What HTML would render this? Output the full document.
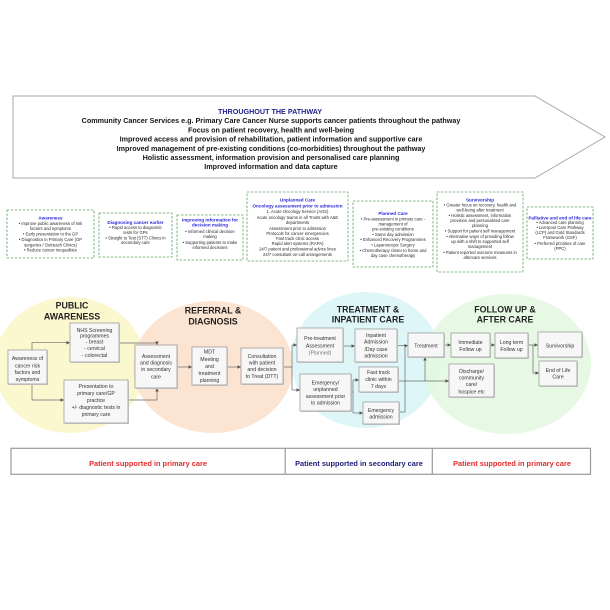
<!DOCTYPE html>
<html><head><meta charset="utf-8"><style>
html,body{margin:0;padding:0;background:#fff;}
svg{display:block;}
text{font-family:"Liberation Sans",Arial,sans-serif;}
.t{font-size:7.2px;font-weight:bold;fill:#161616;text-anchor:middle;}
.tt{font-size:7.2px;font-weight:bold;fill:#23238e;text-anchor:middle;}
.h{font-size:4.6px;fill:#2b2bd6;text-anchor:middle;font-weight:bold;}
.s{font-size:4.2px;fill:#2a2a2a;text-anchor:middle;}
.b{font-size:5.2px;fill:#333;text-anchor:middle;}
.sec{font-size:8.8px;font-weight:bold;fill:#222;text-anchor:middle;}
.bar{font-size:7.4px;font-weight:bold;text-anchor:middle;}
.db{fill:#fff;stroke:#5fa55f;stroke-width:0.8;stroke-dasharray:2.5,1.5;}
.bx{fill:rgba(255,255,255,0.82);stroke:#9a9a9a;stroke-width:0.8;}
.sh{fill:#cfcfcf;}
.ln{fill:none;stroke:#6a6a6a;stroke-width:0.7;}
</style></head><body>
<svg width="610" height="610" viewBox="0 0 610 610" xmlns="http://www.w3.org/2000/svg">
<defs>
<marker id="a" viewBox="0 0 6 6" refX="6" refY="3" markerUnits="userSpaceOnUse" markerWidth="3.6" markerHeight="3.6" orient="auto">
<path d="M0,0 L6,3 L0,6 z" fill="#555"/>
</marker>
</defs>
<rect width="610" height="610" fill="#fff"/>

<!-- Top arrow -->
<polygon points="13,96 535,96 605,137 535,178 13,178" fill="#fff" stroke="#a8a8a8" stroke-width="1"/>
<text class="tt" x="270" y="114">THROUGHOUT THE PATHWAY</text>
<text class="t" x="271" y="123.2">Community Cancer Services e.g. Primary Care Cancer Nurse supports cancer patients throughout the pathway</text>
<text class="t" x="271" y="132.4">Focus on patient recovery, health and well-being</text>
<text class="t" x="271" y="141.6">Improved access and provision of rehabilitation, patient information and supportive care</text>
<text class="t" x="271" y="150.8">Improved management of pre-existing conditions (co-morbidities) throughout the pathway</text>
<text class="t" x="271" y="160">Holistic assessment, information provision and personalised care planning</text>
<text class="t" x="271" y="169.2">Improved information and data capture</text>

<!-- Dashed boxes -->
<rect class="db" x="7" y="210" width="87" height="48"/>
<text class="h" x="50.5" y="219.3">Awareness</text>
<text class="s" x="50.5" y="224.8">• Improve public awareness of risk</text>
<text class="s" x="50.5" y="229.8">factors and symptoms</text>
<text class="s" x="50.5" y="235.5">• Early presentation to the GP</text>
<text class="s" x="50.5" y="240.8">• Diagnostics in Primary Care (GP</text>
<text class="s" x="50.5" y="246.5">surgeries / Outreach Clinics)</text>
<text class="s" x="50.5" y="251.5">• Reduce cancer inequalities</text>

<rect class="db" x="99" y="213" width="73" height="44"/>
<text class="h" x="135.5" y="223.9">Diagnosing cancer earlier</text>
<text class="s" x="135.5" y="229.2">• Rapid access to diagnostic</text>
<text class="s" x="135.5" y="233.8">tests for GPs</text>
<text class="s" x="135.5" y="239.5">• Straight to Test (STT) Clinics in</text>
<text class="s" x="135.5" y="244.2">secondary care</text>

<rect class="db" x="177" y="215" width="66" height="45"/>
<text class="h" x="210" y="221.6">Improving information for</text>
<text class="h" x="210" y="226.6">decision making</text>
<text class="s" x="210" y="233.2">• Informed clinical decision</text>
<text class="s" x="210" y="238.2">making</text>
<text class="s" x="210" y="243.8">• Supporting patients to make</text>
<text class="s" x="210" y="248.8">informed decisions</text>

<rect class="db" x="247" y="192" width="101" height="69"/>
<text class="h" x="297.5" y="201.6">Unplanned Care</text>
<text class="h" x="297.5" y="207.3">Oncology assessment prior to admission</text>
<text class="s" x="297.5" y="213.2">1. Acute Oncology Service (AOS)</text>
<text class="s" x="297.5" y="218.8">Acute oncology teams in all Trusts with A&amp;E</text>
<text class="s" x="297.5" y="223.8">departments</text>
<text class="s" x="297.5" y="229.8">Assessment prior to admission</text>
<text class="s" x="297.5" y="234.8">Protocols for cancer emergencies</text>
<text class="s" x="297.5" y="239.8">Fast track clinic access</text>
<text class="s" x="297.5" y="245.2">Rapid alert systems (RAPA)</text>
<text class="s" x="297.5" y="250.5">24/7 patient and professional advice lines</text>
<text class="s" x="297.5" y="255.8">24/7 consultant on-call arrangements</text>

<rect class="db" x="353" y="201" width="80" height="66"/>
<text class="h" x="393" y="214.9">Planned Care</text>
<text class="s" x="393" y="220.5">• Pre-assessment in primary care -</text>
<text class="s" x="393" y="225.5">management of</text>
<text class="s" x="393" y="230.5">pre-existing conditions</text>
<text class="s" x="393" y="235.8">• Same day admission</text>
<text class="s" x="393" y="240.8">• Enhanced Recovery  Programmes</text>
<text class="s" x="393" y="246.5">• Laparoscopic Surgery</text>
<text class="s" x="393" y="251.8">• Chemotherapy closer to home and</text>
<text class="s" x="393" y="257.2">day case chemotherapy</text>

<rect class="db" x="437" y="192" width="86" height="80"/>
<text class="h" x="480" y="201.6">Survivorship</text>
<text class="s" x="480" y="206.5">• Greater focus on recovery, health and</text>
<text class="s" x="480" y="211.5">well-being after treatment</text>
<text class="s" x="480" y="217.2">• Holistic assessment, information</text>
<text class="s" x="480" y="222.2">provision and personalised care</text>
<text class="s" x="480" y="227.2">planning</text>
<text class="s" x="480" y="232.5">• Support for patient self management</text>
<text class="s" x="480" y="238.2">• Alternative ways of providing follow</text>
<text class="s" x="480" y="243.2">up with a shift to supported self</text>
<text class="s" x="480" y="248.2">management</text>
<text class="s" x="480" y="254.2">• Patient reported outcome measures in</text>
<text class="s" x="480" y="259.2">aftercare services</text>

<rect class="db" x="527" y="207" width="66" height="52"/>
<text class="h" x="560" y="219.3">Palliative and end of life care</text>
<text class="s" x="560" y="224.2">• Advanced care planning</text>
<text class="s" x="560" y="229.2">• Liverpool Care Pathway</text>
<text class="s" x="560" y="234.2">(LCP) and Gold Standards</text>
<text class="s" x="560" y="239.2">Framework (GSF)</text>
<text class="s" x="560" y="244.8">• Preferred priorities of care</text>
<text class="s" x="560" y="249.8">(PPC)</text>

<!-- Ellipses -->
<ellipse cx="70" cy="365" rx="76" ry="68" fill="#fbf8cf"/>
<ellipse cx="213" cy="367" rx="80" ry="66" fill="#fce4d3"/>
<ellipse cx="366" cy="360" rx="75" ry="68" fill="#dff6f8"/>
<ellipse cx="507" cy="364" rx="84" ry="70" fill="#e3f8df" fill-opacity="0.85"/>

<text class="sec" x="72" y="308.3">PUBLIC</text>
<text class="sec" x="72" y="319.3">AWARENESS</text>
<text class="sec" x="213" y="313.3">REFERRAL &amp;</text>
<text class="sec" x="213" y="324.3">DIAGNOSIS</text>
<text class="sec" x="368" y="312.3">TREATMENT &amp;</text>
<text class="sec" x="368" y="322.3">INPATIENT CARE</text>
<text class="sec" x="505" y="312.3">FOLLOW UP &amp;</text>
<text class="sec" x="505" y="322.3">AFTER CARE</text>

<!-- Connectors -->
<path class="ln" d="M32,350 V342.7 H70" marker-end="url(#a)"/>
<path class="ln" d="M32,384 V400 H64" marker-end="url(#a)"/>
<path class="ln" d="M120,343 H157 V345" marker-end="url(#a)"/>
<path class="ln" d="M128,400 H157 V388" marker-end="url(#a)"/>
<path class="ln" d="M177,367 H192" marker-end="url(#a)"/>
<path class="ln" d="M227,367 H241" marker-end="url(#a)"/>
<path class="ln" d="M283,367 H292 M292,345 V390"/>
<path class="ln" d="M292,345 H297" marker-end="url(#a)"/>
<path class="ln" d="M292,390 H300" marker-end="url(#a)"/>
<path class="ln" d="M343,346 H355" marker-end="url(#a)"/>
<path class="ln" d="M351,392 H353 M353,380 V413"/>
<path class="ln" d="M353,380 H359" marker-end="url(#a)"/>
<path class="ln" d="M353,413 H363" marker-end="url(#a)"/>
<path class="ln" d="M399,412 H405 V345.7"/>
<path class="ln" d="M397,345.7 H408" marker-end="url(#a)"/>
<path class="ln" d="M398,381 H449" marker-end="url(#a)"/>
<path class="ln" d="M425,381 V357" marker-end="url(#a)"/>
<path class="ln" d="M444,345 H451" marker-end="url(#a)"/>
<path class="ln" d="M490,345 H495" marker-end="url(#a)"/>
<path class="ln" d="M528,345 H533 V373 H539" marker-end="url(#a)"/>
<path class="ln" d="M533,345 H538" marker-end="url(#a)"/>

<!-- Boxes -->
<rect class="sh" x="9" y="351" width="39" height="34"/>
<rect class="bx" x="8" y="350" width="39" height="34"/>
<text class="b" x="27.5" y="360.1">Awareness of</text>
<text class="b" x="27.5" y="367.5">cancer risk</text>
<text class="b" x="27.5" y="374.1">factors and</text>
<text class="b" x="27.5" y="381.1">symptoms</text>

<rect class="sh" x="71" y="324" width="49" height="39"/>
<rect class="bx" x="70" y="323" width="49" height="39"/>
<text class="b" x="94.5" y="331.8">NHS Screening</text>
<text class="b" x="94.5" y="337.5">programmes</text>
<text class="b" x="94.5" y="343.5">- breast</text>
<text class="b" x="94.5" y="350.1">- cervical</text>
<text class="b" x="94.5" y="356.8">- colorectal</text>

<rect class="sh" x="65" y="381" width="64" height="43"/>
<rect class="bx" x="64" y="380" width="64" height="43"/>
<text class="b" x="96" y="387.8">Presentation to</text>
<text class="b" x="96" y="395.1">primary care/GP</text>
<text class="b" x="96" y="401.8">practice</text>
<text class="b" x="96" y="409.1">+/- diagnostic tests in</text>
<text class="b" x="96" y="416.1">primary care</text>

<rect class="sh" x="136" y="346" width="42" height="43"/>
<rect class="bx" x="135" y="345" width="42" height="43"/>
<text class="b" x="156" y="357.8">Assessment</text>
<text class="b" x="156" y="364.5">and diagnosis</text>
<text class="b" x="156" y="371.1">in secondary</text>
<text class="b" x="156" y="378.5">care</text>

<rect class="sh" x="193" y="348" width="35" height="38"/>
<rect class="bx" x="192" y="347" width="35" height="38"/>
<text class="b" x="209.5" y="353.5">MDT</text>
<text class="b" x="209.5" y="360.8">Meeting</text>
<text class="b" x="209.5" y="367.8">and</text>
<text class="b" x="209.5" y="375.1">treatment</text>
<text class="b" x="209.5" y="381.8">planning</text>

<rect class="sh" x="242" y="349" width="42" height="36"/>
<rect class="bx" x="241" y="348" width="42" height="36"/>
<text class="b" x="262" y="357.8">Consultation</text>
<text class="b" x="262" y="364.5">with patient</text>
<text class="b" x="262" y="371.1">and decision</text>
<text class="b" x="262" y="377.8">to Treat (DTT)</text>

<rect class="sh" x="298" y="329" width="46" height="34"/>
<rect class="bx" x="297" y="328" width="46" height="34"/>
<text class="b" x="320" y="340.1">Pre-treatment</text>
<text class="b" x="320" y="347.5">Assessment</text>
<text class="b" x="320" y="354.5" style="fill:#777">(Planned)</text>

<rect class="sh" x="356" y="330" width="42" height="33"/>
<rect class="bx" x="355" y="329" width="42" height="33"/>
<text class="b" x="376" y="336.8">Inpatient</text>
<text class="b" x="376" y="343.5">Admission</text>
<text class="b" x="376" y="350.8">/Day case</text>
<text class="b" x="376" y="357.5">admission</text>

<rect class="sh" x="301" y="375" width="51" height="37"/>
<rect class="bx" x="300" y="374" width="51" height="37"/>
<text class="b" x="325.5" y="384.5">Emergency/</text>
<text class="b" x="325.5" y="391.1">unplanned</text>
<text class="b" x="325.5" y="397.8">assessment prior</text>
<text class="b" x="325.5" y="404.5">to admission</text>

<rect class="sh" x="360" y="368" width="39" height="25"/>
<rect class="bx" x="359" y="367" width="39" height="25"/>
<text class="b" x="378.5" y="374.1">Fast track</text>
<text class="b" x="378.5" y="381.1">clinic within</text>
<text class="b" x="378.5" y="387.8">7 days</text>

<rect class="sh" x="364" y="403" width="36" height="22"/>
<rect class="bx" x="363" y="402" width="36" height="22"/>
<text class="b" x="381" y="411.8">Emergency</text>
<text class="b" x="381" y="418.5">admission</text>

<rect class="sh" x="409" y="334" width="36" height="24"/>
<rect class="bx" x="408" y="333" width="36" height="24"/>
<text class="b" x="426" y="347.5">Treatment</text>

<rect class="sh" x="452" y="334" width="39" height="24"/>
<rect class="bx" x="451" y="333" width="39" height="24"/>
<text class="b" x="470.5" y="344.1">Immediate</text>
<text class="b" x="470.5" y="350.8">Follow up</text>

<rect class="sh" x="496" y="334" width="33" height="25"/>
<rect class="bx" x="495" y="333" width="33" height="25"/>
<text class="b" x="511.5" y="344.1">Long term</text>
<text class="b" x="511.5" y="350.8">Follow up</text>

<rect class="sh" x="450" y="365" width="45" height="33"/>
<rect class="bx" x="449" y="364" width="45" height="33"/>
<text class="b" x="471.5" y="372.8">Discharge/</text>
<text class="b" x="471.5" y="379.5">community</text>
<text class="b" x="471.5" y="386.1">care/</text>
<text class="b" x="471.5" y="393.5">hospice etc</text>

<rect class="sh" x="539" y="333" width="44" height="25"/>
<rect class="bx" x="538" y="332" width="44" height="25"/>
<text class="b" x="560" y="347.5">Survivorship</text>

<rect class="sh" x="540" y="362" width="38" height="25"/>
<rect class="bx" x="539" y="361" width="38" height="25"/>
<text class="b" x="558" y="371.8">End of Life</text>
<text class="b" x="558" y="378.5">Care</text>

<!-- Bottom bar -->
<rect x="11" y="448.3" width="579.5" height="26" fill="#fff" stroke="#999" stroke-width="1.2"/>
<line x1="285.2" y1="448.3" x2="285.2" y2="474.3" stroke="#999" stroke-width="1.2"/>
<line x1="432.3" y1="448.3" x2="432.3" y2="474.3" stroke="#999" stroke-width="1.2"/>
<text class="bar" x="148" y="465.9" fill="#e52a2a">Patient supported in primary care</text>
<text class="bar" x="359" y="465.9" fill="#1c1c78">Patient supported in secondary care</text>
<text class="bar" x="512" y="465.9" fill="#e52a2a">Patient supported in primary care</text>
</svg>
</body></html>
